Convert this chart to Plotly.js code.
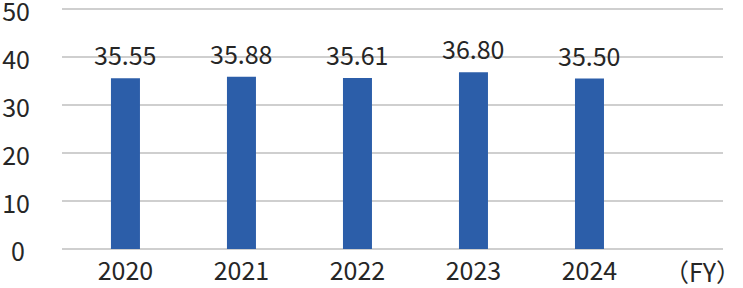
<!DOCTYPE html>
<html>
<head>
<meta charset="utf-8">
<script src="https://cdn.plot.ly/plotly-3.0.1.min.js"></script>
<style>html,body{margin:0;padding:0;background:#fff;}#chart{width:743px;height:288px;}</style>
</head>
<body>
<div id="chart"></div>
<script>
const years = ['2020', '2021', '2022', '2023', '2024'];
const values = [35.55, 35.88, 35.61, 36.80, 35.50];
const yTicks = [0, 10, 20, 30, 40, 50];
const yTickText = ['0\u2009', '10', '20', '30', '40', '50'];
const unitLabel = '（FY）';

const FONT = '"Noto Sans CJK JP", "Noto Sans", sans-serif';
const TXT = '#262626';
const FS = 25;

const trace = {
  type: 'bar',
  x: years,
  y: values,
  width: 0.25,
  marker: {color: '#2c5ea9'},
  hoverinfo: 'skip'
};
// invisible trace carrying the y tick-label axis
const labelTrace = {
  type: 'scatter', mode: 'markers',
  x: [years[0]], y: [yTicks[0]], yaxis: 'y2',
  marker: {opacity: 0}, hoverinfo: 'skip'
};

const annotations = years.map((yr, i) => ({
  x: i, y: values[i], xref: 'x', yref: 'y',
  text: values[i].toFixed(2),
  showarrow: false, yanchor: 'bottom', yshift: 4,
  font: {family: FONT, size: FS, color: TXT}
}));
annotations.push({
  x: 4.97, y: 0, xref: 'x', yref: 'y',
  text: unitLabel, showarrow: false, yanchor: 'top', yshift: -2,
  font: {family: FONT, size: FS, color: TXT}
});

const YR = [-0.3, 50.4];
const TOP = 7, BOT = 33.5, SHIFT_PX = 3.5;
const H = 288 - TOP - BOT;
const d = SHIFT_PX / H;

const layout = {
  width: 743, height: 288,
  margin: {l: 62, r: 20, t: TOP, b: BOT},
  paper_bgcolor: '#fff', plot_bgcolor: 'rgba(0,0,0,0)',
  showlegend: false,
  font: {family: FONT, size: FS, color: TXT},
  xaxis: {
    type: 'category', categoryarray: years,
    range: [-0.547, 5.151], anchor: 'y',
    showgrid: false, zeroline: false, showline: false,
    ticks: '', ticklabelstandoff: 3,
    tickfont: {family: FONT, size: FS, color: TXT}
  },
  yaxis: {
    range: YR, domain: [d, 1],
    tickvals: yTicks, showticklabels: false,
    showgrid: true, gridcolor: '#cfcfcf', gridwidth: 2,
    zeroline: false, showline: false, ticks: ''
  },
  yaxis2: {
    range: YR, domain: [0, 1 - d], anchor: 'x', side: 'left',
    tickvals: yTicks, ticktext: yTickText,
    showgrid: false, zeroline: false, showline: false, ticks: '',
    ticklabelstandoff: 31, ticklabeloverflow: 'allow',
    tickfont: {family: FONT, size: FS, color: TXT}
  },
  annotations: annotations
};

Plotly.newPlot('chart', [trace, labelTrace], layout, {displayModeBar: false, staticPlot: true});
</script>
</body>
</html>
